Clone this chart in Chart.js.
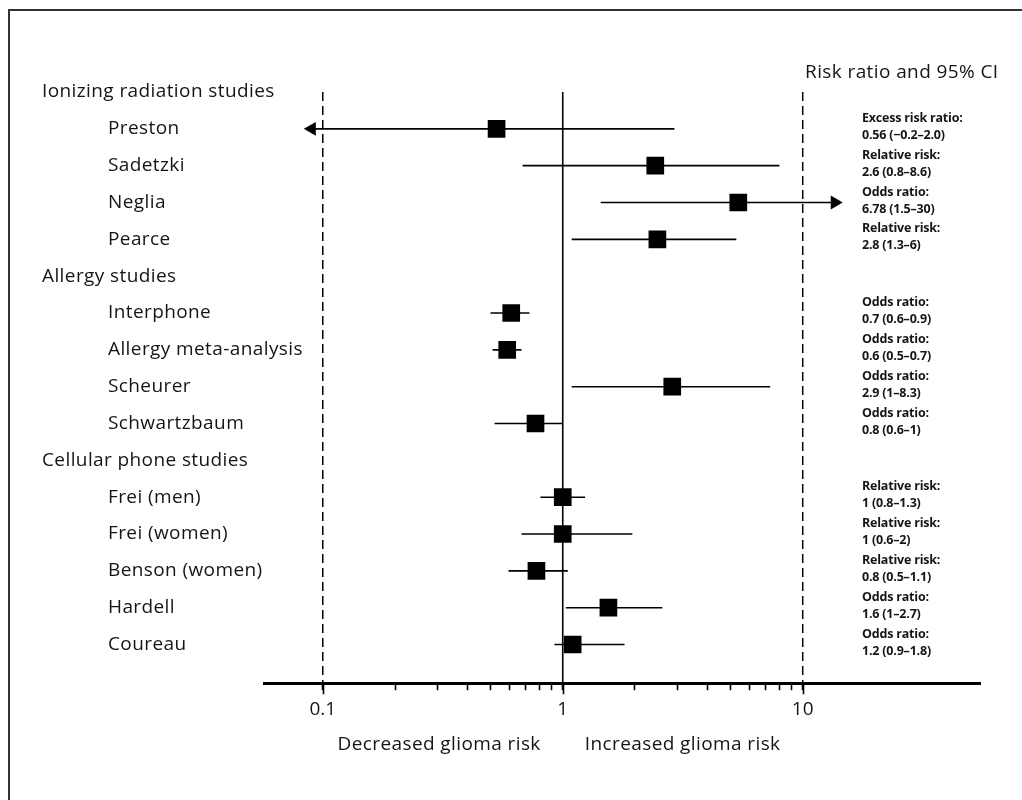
<!DOCTYPE html>
<html>
<head>
<meta charset="utf-8">
<script src="https://cdn.jsdelivr.net/npm/chart.js@4.4.1/dist/chart.umd.min.js"></script>
<style>
  html, body { margin: 0; padding: 0; background: #fff; }
  #wrap { width: 1022px; height: 800px; position: relative; }
</style>
</head>
<body>
<div id="wrap"><canvas id="c"></canvas></div>
<script>
// ---------------- DATA ----------------
const groups = ['Ionizing radiation studies', 'Allergy studies', 'Cellular phone studies'];
const studies = ['Preston', 'Sadetzki', 'Neglia', 'Pearce',
  'Interphone', 'Allergy meta-analysis', 'Scheurer', 'Schwartzbaum',
  'Frei (men)', 'Frei (women)', 'Benson (women)', 'Hardell', 'Coureau'];
const studyGroup = [0, 0, 0, 0, 1, 1, 1, 1, 2, 2, 2, 2, 2];
const estimates = [0.53, 2.43, 5.39, 2.48, 0.61, 0.587, 2.86, 0.77, 1.0, 1.0, 0.777, 1.55, 1.10];
const ciLow     = [0.09, 0.68, 1.44, 1.09, 0.50, 0.51, 1.09, 0.52, 0.807, 0.673, 0.594, 1.03, 0.923];
const ciHigh    = [2.92, 8.0, 13.6, 5.29, 0.727, 0.673, 7.32, 1.0, 1.24, 1.95, 1.05, 2.60, 1.81];
const arrowLow  = [true, false, false, false, false, false, false, false, false, false, false, false, false];
const arrowHigh = [false, false, true, false, false, false, false, false, false, false, false, false, false];
const measureNames = ['Excess risk ratio:', 'Relative risk:', 'Odds ratio:', 'Relative risk:',
  'Odds ratio:', 'Odds ratio:', 'Odds ratio:', 'Odds ratio:',
  'Relative risk:', 'Relative risk:', 'Relative risk:', 'Odds ratio:', 'Odds ratio:'];
const measureValues = ['0.56 (\u22120.2\u20132.0)', '2.6 (0.8\u20138.6)', '6.78 (1.5\u201330)', '2.8 (1.3\u20136)',
  '0.7 (0.6\u20130.9)', '0.6 (0.5\u20130.7)', '2.9 (1\u20138.3)', '0.8 (0.6\u20131)',
  '1 (0.8\u20131.3)', '1 (0.6\u20132)', '0.8 (0.5\u20131.1)', '1.6 (1\u20132.7)', '1.2 (0.9\u20131.8)'];
const xTickValues = [0.1, 0.2, 0.3, 0.4, 0.5, 0.6, 0.7, 0.8, 0.9, 1, 2, 3, 4, 5, 6, 7, 8, 9, 10];
const xTickLabels = ['0.1', '1', '10'];
const dashedRefs = [0.1, 10];
const solidRefs = [1];
const title = 'Risk ratio and 95% CI';
const leftCaption = 'Decreased glioma risk';
const rightCaption = 'Increased glioma risk';

// ---------------- ROW LAYOUT (order) ----------------
const rows = [];
groups.forEach((g, gi) => {
  rows.push({ type: 'group', text: g });
  studies.forEach((s, si) => { if (studyGroup[si] === gi) rows.push({ type: 'study', text: s, si }); });
});
const studyRow = [];
rows.forEach((r, ri) => { if (r.type === 'study') studyRow[r.si] = ri; });

const X_MIN = 0.0569, X_MAX = 54.8;
const Y_MIN = 0, Y_MAX = 16.05;

// ---------------- DATASETS ----------------
const datasets = [];
datasets.push({
  label: 'estimate',
  data: estimates.map((v, i) => ({ x: v, y: studyRow[i] })),
  pointStyle: 'rect',
  pointRadius: 12.5,
  backgroundColor: '#000',
  borderColor: '#000',
  borderWidth: 0,
  showLine: false,
  order: 0
});
studies.forEach((s, i) => {
  datasets.push({
    label: 'ci ' + s,
    data: [{ x: ciLow[i], y: studyRow[i] }, { x: ciHigh[i], y: studyRow[i] }],
    showLine: true,
    borderColor: '#000',
    borderWidth: 1.6,
    backgroundColor: '#000',
    pointBorderWidth: 0,
    pointStyle: 'triangle',
    pointRadius: (ctx) => ((ctx.dataIndex === 0 && arrowLow[i]) || (ctx.dataIndex === 1 && arrowHigh[i])) ? 8 : 0,
    rotation: (ctx) => ctx.dataIndex === 0 ? -90 : 90,
    order: 1
  });
});
dashedRefs.forEach(v => datasets.push({
  label: 'ref ' + v,
  data: [{ x: v, y: Y_MIN }, { x: v, y: Y_MAX }],
  showLine: true, borderColor: '#000', borderWidth: 1.5, borderDash: [9, 5],
  pointRadius: 0, order: 2
}));
solidRefs.forEach(v => datasets.push({
  label: 'ref ' + v,
  data: [{ x: v, y: Y_MIN }, { x: v, y: Y_MAX }],
  showLine: true, borderColor: '#000', borderWidth: 1.6,
  pointRadius: 0, order: 2
}));

// ---------------- TEXT / DECOR PLUGIN ----------------
const FONT = '"Open Sans", "Liberation Sans", sans-serif';
const decor = {
  id: 'decor',
  afterDraw(chart) {
    const ctx = chart.ctx;
    const xs = chart.scales.x, ys = chart.scales.y;
    const area = chart.chartArea;
    ctx.save();
    // frame
    ctx.strokeStyle = '#333';
    ctx.lineWidth = 2;
    ctx.beginPath();
    ctx.moveTo(9, 810); ctx.lineTo(9, 10); ctx.lineTo(1030, 10);
    ctx.stroke();

    // longer major ticks
    ctx.strokeStyle = '#000';
    ctx.lineWidth = 1.6;
    xTickLabels.forEach(l => {
      const px = Math.round(xs.getPixelForValue(parseFloat(l))) + 0.5;
      ctx.beginPath();
      ctx.moveTo(px, area.bottom);
      ctx.lineTo(px, area.bottom + 11);
      ctx.stroke();
    });

    ctx.fillStyle = '#151515';
    ctx.textBaseline = 'middle';
    ctx.textAlign = 'left';
    ctx.letterSpacing = '0.4px';
    rows.forEach((r, ri) => {
      const y = ys.getPixelForValue(ri);
      if (r.type === 'group') {
        ctx.font = '400 19px ' + FONT;
        ctx.fillText(r.text, 42, y);
      } else {
        ctx.font = '500 19px ' + FONT;
        ctx.fillText(r.text, 108, y);
      }
    });
    ctx.font = '400 19px ' + FONT;
    ctx.fillText(title, 805, 73);
    const x1 = xs.getPixelForValue(1);
    ctx.textAlign = 'right';
    ctx.fillText(leftCaption, x1 - 22, 745);
    ctx.textAlign = 'left';
    ctx.fillText(rightCaption, x1 + 22, 745);

    // annotations
    ctx.letterSpacing = '-0.2px';
    ctx.font = '700 12.5px ' + FONT;
    studies.forEach((s, i) => {
      const y = ys.getPixelForValue(studyRow[i]) - 2;
      ctx.fillText(measureNames[i], 862, y - 8.5);
      ctx.fillText(measureValues[i], 862, y + 8.5);
    });
    ctx.restore();
  }
};

new Chart(document.getElementById('c'), {
  type: 'scatter',
  data: { datasets },
  options: {
    responsive: true,
    maintainAspectRatio: false,
    animation: false,
    events: [],
    layout: { padding: { left: 264, right: 42, top: 92, bottom: 71 } },
    plugins: { legend: { display: false }, tooltip: { enabled: false } },
    scales: {
      x: {
        type: 'logarithmic',
        min: X_MIN, max: X_MAX,
        afterBuildTicks: (axis) => { axis.ticks = xTickValues.map(v => ({ value: v })); },
        ticks: {
          autoSkip: false,
          maxRotation: 0,
          padding: 8,
          color: '#151515',
          font: { family: FONT, size: 19, weight: '500' },
          callback: (v) => { const s = String(+(+v).toPrecision(3)); return xTickLabels.includes(s) ? s : ''; }
        },
        grid: {
          drawOnChartArea: false,
          drawTicks: true,
          tickLength: 7,
          tickColor: '#000',
          tickWidth: 1.6
        },
        border: { display: true, color: '#000', width: 3 }
      },
      y: {
        type: 'linear', min: Y_MIN, max: Y_MAX, reverse: true, display: false
      }
    }
  },
  plugins: [decor]
});
</script>
</body>
</html>
